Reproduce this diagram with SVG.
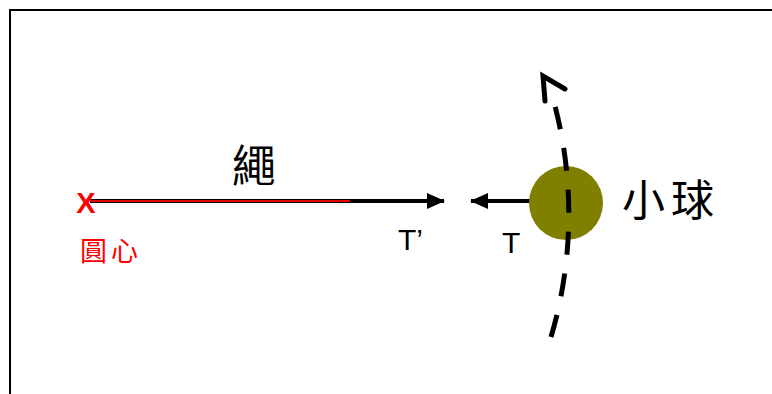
<svg xmlns="http://www.w3.org/2000/svg" width="772" height="394" viewBox="0 0 772 394">
<style>
.cjk{font-family:"Noto Sans CJK TC","Noto Sans CJK SC",sans-serif;}
.lat{font-family:"Liberation Sans",Arial,sans-serif;}
.force{stroke:#000;stroke-width:4;fill:none;}
</style>
<defs>
<marker id="ah" markerWidth="18" markerHeight="16" refX="17" refY="8" orient="auto" markerUnits="userSpaceOnUse">
<path d="M0,0 L18,8 L0,16 Z" fill="#000"/>
</marker>
</defs>
<rect width="772" height="394" fill="#fff"/>
<path d="M10,394 V10 H772" fill="none" stroke="#000" stroke-width="2"/>
<g id="connectors">
<line class="force" x1="90" y1="201" x2="444" y2="201" marker-end="url(#ah)"/>
<line x1="90" y1="201" x2="350" y2="201" stroke="#e00000" stroke-width="2"/>
<line class="force" x1="542" y1="201" x2="471" y2="201" marker-end="url(#ah)"/>
</g>
<g id="ball">
<circle cx="566" cy="203" r="37" fill="#808000"/>
</g>
<g id="path">
<path d="M551,337 A432,432 0 0 0 555,106" fill="none" stroke="#000" stroke-width="5" stroke-dasharray="23 19"/>
<polyline points="565,89 543,76 545,101" fill="none" stroke="#000" stroke-width="5" stroke-linejoin="miter" stroke-linecap="round"/>
</g>
<g id="center">
<text class="lat" x="86" y="212.5" font-size="29" font-weight="bold" fill="#f00" text-anchor="middle">X</text>
<text class="cjk" x="80" y="261" font-size="27" fill="#f00" letter-spacing="4">圓心</text>
</g>
<g id="labels">
<text class="cjk" x="254" y="182" font-size="44" text-anchor="middle">繩</text>
<text class="cjk" x="622" y="216" font-size="43" letter-spacing="6">小球</text>
<text class="lat" x="398" y="250" font-size="30">T’</text>
<text class="lat" x="502" y="253" font-size="30">T</text>
</g>
</svg>
